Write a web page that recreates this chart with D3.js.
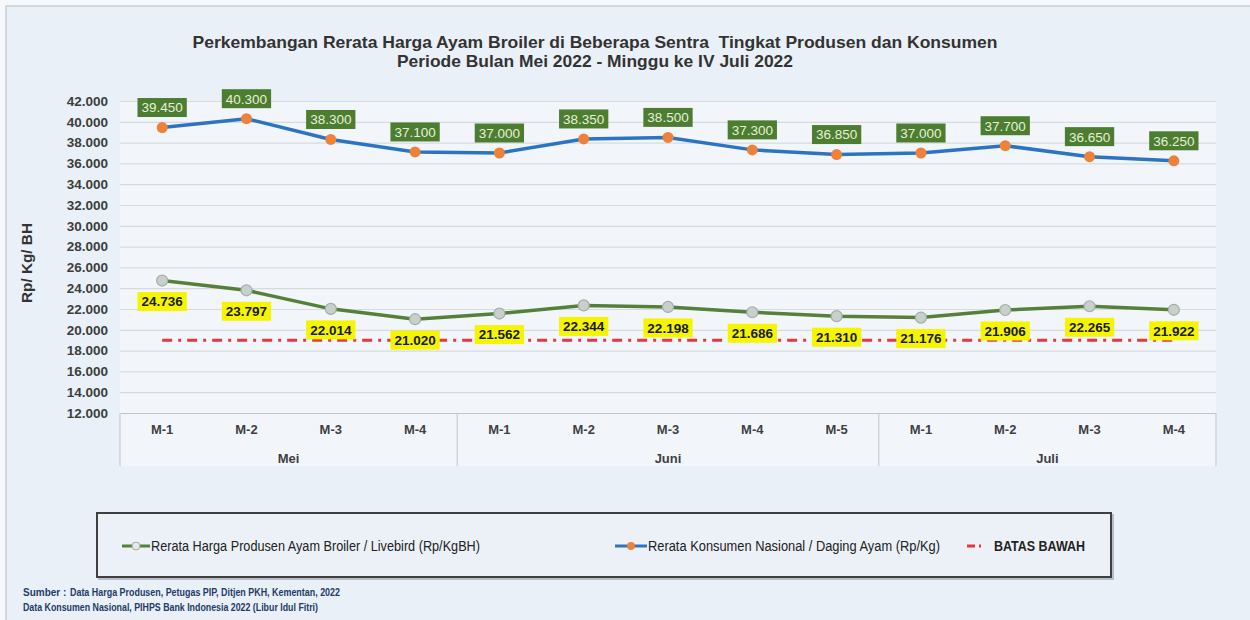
<!DOCTYPE html>
<html>
<head>
<meta charset="utf-8">
<script src="https://cdn.jsdelivr.net/npm/d3@7"></script>
<style>
  body { margin: 0; background: #f6f8fb; }
  svg { display: block; font-family: "Liberation Sans", Arial, sans-serif; }
</style>
</head>
<body>
<svg id="chart" width="1250" height="620"></svg>
<script>
// data
const months = ['Mei', 'Juni', 'Juli'];
const weeksPerMonth = [4, 5, 4];
const weekLabels = ['M-1', 'M-2', 'M-3', 'M-4', 'M-1', 'M-2', 'M-3', 'M-4', 'M-5', 'M-1', 'M-2', 'M-3', 'M-4'];
const konsumen = [39450, 40300, 38300, 37100, 37000, 38350, 38500, 37300, 36850, 37000, 37700, 36650, 36250];
const produsen = [24736, 23797, 22014, 21020, 21562, 22344, 22198, 21686, 21310, 21176, 21906, 22265, 21922];
const batasBawah = [19000, 19000, 19000, 19000, 19000, 19000, 19000, 19000, 19000, 19000, 19000, 19000, 19000];
const yTicks = [12000, 14000, 16000, 18000, 20000, 22000, 24000, 26000, 28000, 30000, 32000, 34000, 36000, 38000, 40000, 42000];

const titleLines = [
  'Perkembangan Rerata Harga Ayam Broiler di Beberapa Sentra  Tingkat Produsen dan Konsumen',
  'Periode Bulan Mei 2022 - Minggu ke IV Juli 2022'
];
const legendLabels = [
  'Rerata Harga Produsen Ayam Broiler / Livebird (Rp/KgBH)',
  'Rerata Konsumen Nasional / Daging Ayam (Rp/Kg)',
  'BATAS BAWAH'
];

const margin = {top: 101, left: 120, right: 34, bottom: 207};
const width = 1250 - margin.left - margin.right;
const height = 620 - margin.top - margin.bottom;

const idn = d3.formatLocale({decimal: ',', thousands: '.', grouping: [3], currency: ['Rp', '']});
const fmt = idn.format(',d');

const svg = d3.select('#chart');

// outer frame
svg.append('rect')
  .attr('x', 6).attr('y', 6)
  .attr('width', 1250).attr('height', 620)
  .attr('fill', '#eaf0f7')
  .attr('stroke', '#c6ced8')
  .attr('stroke-width', 1.5);

// title
svg.append('g').selectAll('text')
  .data(titleLines)
  .join('text')
    .attr('x', 595)
    .attr('y', (d, i) => 48 + i * 19)
    .attr('text-anchor', 'middle')
    .attr('textLength', (d, i) => [805, 396][i])
    .attr('lengthAdjust', 'spacingAndGlyphs')
    .style('font-size', '16.5px')
    .style('font-weight', 'bold')
    .style('white-space', 'pre')
    .attr('fill', '#333')
    .text(d => d);

const chart = svg.append('g')
  .attr('transform', `translate(${margin.left},${margin.top})`);

// plot background incl. category axis block
chart.append('rect')
  .attr('width', width)
  .attr('height', height + 53)
  .attr('fill', '#f2f6fb');

const x = d3.scaleBand()
  .domain(d3.range(weekLabels.length))
  .range([0, width]);
const cx = i => x(i) + x.bandwidth() / 2;

const y = d3.scaleLinear()
  .domain([12000, 42000])
  .range([height, 0]);

// gridlines
chart.append('g')
  .call(d3.axisLeft(y).tickValues(yTicks).tickSize(-width).tickFormat(''))
  .call(g => g.select('.domain').remove())
  .call(g => g.selectAll('line').attr('stroke', '#d6dbe0').attr('stroke-width', 1.2));

// y tick labels
chart.append('g')
  .call(d3.axisLeft(y).tickValues(yTicks).tickSize(0).tickPadding(12).tickFormat(fmt))
  .call(g => g.select('.domain').remove())
  .call(g => g.selectAll('text')
    .style('font-size', '13.5px')
    .style('font-weight', 'bold')
    .style('font-family', '"Liberation Sans", Arial, sans-serif')
    .attr('fill', '#3d3d3d'));

svg.append('text')
  .attr('transform', 'translate(32,263) rotate(-90)')
  .attr('text-anchor', 'middle')
  .attr('textLength', 80)
  .attr('lengthAdjust', 'spacingAndGlyphs')
  .style('font-size', '14px')
  .style('font-weight', 'bold')
  .attr('fill', '#333')
  .text('Rp/ Kg/ BH');

// category axis: week labels
chart.append('g')
  .attr('transform', `translate(0,${height})`)
  .call(d3.axisBottom(x).tickSize(0).tickPadding(12).tickFormat(i => weekLabels[i]))
  .call(g => g.select('.domain').attr('stroke', '#bfc5cc').attr('stroke-width', 1.2))
  .call(g => g.selectAll('text')
    .style('font-size', '13px')
    .style('font-weight', 'bold')
    .style('font-family', '"Liberation Sans", Arial, sans-serif')
    .attr('fill', '#404040'));

// month groups
const starts = d3.cumsum([0, ...weeksPerMonth]);
chart.append('g').selectAll('line')
  .data(starts)
  .join('line')
    .attr('x1', d => d === weekLabels.length ? width : x(d))
    .attr('x2', d => d === weekLabels.length ? width : x(d))
    .attr('y1', height)
    .attr('y2', height + 53)
    .attr('stroke', '#c9ced4')
    .attr('stroke-width', 1.2);

chart.append('g').selectAll('text')
  .data(months)
  .join('text')
    .attr('x', (d, i) => (x(starts[i]) + (starts[i + 1] === weekLabels.length ? width : x(starts[i + 1]))) / 2)
    .attr('y', height + 50)
    .attr('text-anchor', 'middle')
    .style('font-size', '13px')
    .style('font-weight', 'bold')
    .attr('fill', '#404040')
    .text(d => d);

// lines
const line = d3.line().x((d, i) => cx(i)).y(d => y(d));

chart.append('path')
  .datum(batasBawah)
  .attr('fill', 'none')
  .attr('stroke', '#e8363d')
  .attr('stroke-width', 3)
  .attr('stroke-dasharray', '10,6,3,6')
  .attr('d', line);

chart.append('path')
  .datum(produsen)
  .attr('fill', 'none')
  .attr('stroke', '#55803a')
  .attr('stroke-width', 3.5)
  .attr('d', line);

chart.append('path')
  .datum(konsumen)
  .attr('fill', 'none')
  .attr('stroke', '#2c74c2')
  .attr('stroke-width', 3.5)
  .attr('d', line);

chart.append('g').selectAll('circle')
  .data(produsen)
  .join('circle')
    .attr('cx', (d, i) => cx(i))
    .attr('cy', d => y(d))
    .attr('r', 5.5)
    .attr('fill', '#c8d0cb')
    .attr('stroke', '#a4ada7')
    .attr('stroke-width', 1.2);

chart.append('g').selectAll('circle')
  .data(konsumen)
  .join('circle')
    .attr('cx', (d, i) => cx(i))
    .attr('cy', d => y(d))
    .attr('r', 5.5)
    .attr('fill', '#ed8238');

// data labels
function addLabels(values, dy, fill, color, weight) {
  const g = chart.append('g').selectAll('g')
    .data(values)
    .join('g')
      .attr('transform', (d, i) => `translate(${cx(i)},${y(d) + dy})`);
  g.append('rect').attr('fill', fill);
  const texts = g.append('text')
    .attr('text-anchor', 'middle')
    .attr('dy', '0.36em')
    .style('font-size', '13.5px')
    .style('font-weight', weight)
    .attr('fill', color)
    .text(d => fmt(d));
  texts.each(function() {
    const w = this.getComputedTextLength() + 8;
    d3.select(this.parentNode).select('rect')
      .attr('x', -w / 2).attr('y', -9.5)
      .attr('width', w).attr('height', 19);
  });
}
addLabels(konsumen, -20, '#4d7d31', '#e4f1d8', 'normal');
addLabels(produsen, 21, '#f5f500', '#1a1a1a', 'bold');

// legend
const legend = svg.append('g');
legend.append('rect')
  .attr('x', 99).attr('y', 515)
  .attr('width', 1014).attr('height', 64)
  .attr('fill', 'none')
  .attr('stroke', '#b8bec5')
  .attr('stroke-width', 2);
legend.append('rect')
  .attr('x', 97).attr('y', 513)
  .attr('width', 1014).attr('height', 64)
  .attr('fill', '#ecf1f7')
  .attr('stroke', '#3f3f3f')
  .attr('stroke-width', 2);

const ly = 546;
// producer symbol
legend.append('line').attr('x1', 122).attr('x2', 150).attr('y1', ly).attr('y2', ly)
  .attr('stroke', '#55803a').attr('stroke-width', 3);
legend.append('circle').attr('cx', 136).attr('cy', ly).attr('r', 4)
  .attr('fill', '#e4e9e5').attr('stroke', '#a4ada7');
// konsumen symbol
legend.append('line').attr('x1', 615).attr('x2', 647).attr('y1', ly).attr('y2', ly)
  .attr('stroke', '#2c74c2').attr('stroke-width', 3);
legend.append('circle').attr('cx', 631).attr('cy', ly).attr('r', 4)
  .attr('fill', '#ed8238');
// batas symbol
legend.append('line').attr('x1', 967).attr('x2', 985).attr('y1', ly).attr('y2', ly)
  .attr('stroke', '#e8363d').attr('stroke-width', 3).attr('stroke-dasharray', '8,4,2,4');

legend.selectAll('text.lg')
  .data(legendLabels)
  .join('text')
    .attr('class', 'lg')
    .attr('x', (d, i) => [151, 648, 994][i])
    .attr('y', ly + 5)
    .attr('textLength', (d, i) => [329, 292, 91][i])
    .attr('lengthAdjust', 'spacingAndGlyphs')
    .style('font-size', '14px')
    .style('font-weight', (d, i) => i === 2 ? 'bold' : 'normal')
    .attr('fill', '#222')
    .text(d => d);

// source notes
const notes = svg.append('g')
  .style('font-size', '10px')
  .style('font-weight', 'bold')
  .attr('fill', '#243b68');
notes.append('text').attr('x', 23).attr('y', 596).text('Sumber :');
notes.append('text').attr('x', 70).attr('y', 596)
  .attr('textLength', 270).attr('lengthAdjust', 'spacingAndGlyphs')
  .text('Data Harga Produsen, Petugas PIP, Ditjen PKH, Kementan, 2022');
notes.append('text').attr('x', 23).attr('y', 611)
  .attr('textLength', 295).attr('lengthAdjust', 'spacingAndGlyphs')
  .text('Data Konsumen Nasional, PIHPS Bank Indonesia 2022 (Libur Idul Fitri)');
</script>
</body>
</html>
